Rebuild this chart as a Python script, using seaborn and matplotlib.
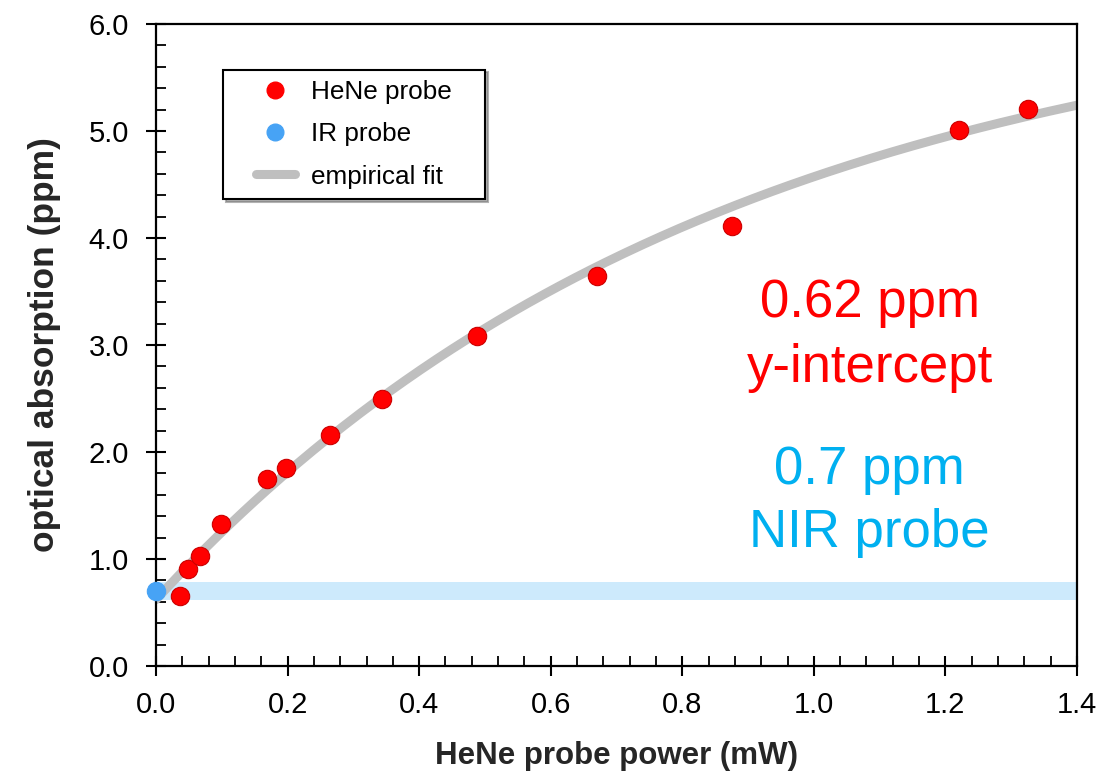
import numpy as np
import pandas as pd
import matplotlib
matplotlib.use("Agg")
import matplotlib.pyplot as plt
import seaborn as sns
from matplotlib.lines import Line2D
from matplotlib.legend_handler import HandlerLine2D
from matplotlib.ticker import MultipleLocator, FormatStrFormatter

# ---- data ----
hene_power = [0.0365, 0.0482, 0.0664, 0.0993, 0.168, 0.198, 0.265, 0.3435, 0.4875, 0.670, 0.8755, 1.221, 1.326]
hene_absorption = [0.657, 0.904, 1.028, 1.327, 1.748, 1.850, 2.156, 2.498, 3.087, 3.642, 4.109, 5.009, 5.203]
ir_power = [0.0]
ir_absorption = [0.70]
nir_level = 0.70
nir_band_half = 0.082
# empirical fit parameters: y = intercept + amplitude * (1 - exp(-x / scale))
fit_intercept = 0.62
fit_amplitude = 5.75
fit_scale = 0.86
x_range = (0.0, 1.4)
y_range = (0.0, 6.0)
legend_labels = ["HeNe probe", "IR probe", "empirical fit"]

sns.set_theme(style="white")
plt.rcParams['font.family'] = ['Liberation Sans', 'DejaVu Sans']

fig = plt.figure(figsize=(10.99, 7.74), dpi=100)
ax = fig.add_axes([156/1099, 1-666/774, (1077-156)/1099, (666-24)/774])

# NIR band
ax.axhspan(nir_level - nir_band_half, nir_level + nir_band_half, color="#cdeafc", zorder=1, lw=0)

# empirical fit
fit_x = np.linspace(x_range[0], x_range[1], 300)
fit_df = pd.DataFrame({"x": fit_x, "y": fit_intercept + fit_amplitude * (1 - np.exp(-fit_x / fit_scale))})
sns.lineplot(data=fit_df, x="x", y="y", ax=ax, color="#bfbfbf", lw=6.5, zorder=2, legend=False)

hene_df = pd.DataFrame({"x": hene_power, "y": hene_absorption})
ir_df = pd.DataFrame({"x": ir_power, "y": ir_absorption})
sns.scatterplot(data=hene_df, x="x", y="y", ax=ax, color="#ff0000", edgecolor="#cc0000",
                linewidth=0.8, s=175, zorder=4, legend=False, clip_on=False)
sns.scatterplot(data=ir_df, x="x", y="y", ax=ax, color="#47a3f5", edgecolor="#47a3f5",
                linewidth=0.8, s=175, zorder=5, legend=False, clip_on=False)

ax.set_xlim(*x_range)
ax.set_ylim(*y_range)
ax.xaxis.set_major_locator(MultipleLocator(0.2))
ax.xaxis.set_minor_locator(MultipleLocator(0.04))
ax.yaxis.set_major_locator(MultipleLocator(1.0))
ax.yaxis.set_minor_locator(MultipleLocator(0.2))
ax.xaxis.set_major_formatter(FormatStrFormatter("%.1f"))
ax.yaxis.set_major_formatter(FormatStrFormatter("%.1f"))
ax.tick_params(which="major", direction="inout", length=14, width=1.5, color="black",
               labelsize=21, labelcolor="black")
ax.tick_params(which="minor", direction="in", length=7, width=1.3, color="black")
ax.tick_params(axis="x", which="both", bottom=True, top=False)
ax.tick_params(axis="x", which="major", pad=11)
ax.tick_params(axis="y", which="both", left=True, right=False)
ax.tick_params(axis="y", which="major", pad=12.5)
for sp in ax.spines.values():
    sp.set_color("black")
    sp.set_linewidth(1.6)

ax.set_xlabel("HeNe probe power (mW)", fontsize=22.5, fontweight="bold", labelpad=16)
ax.set_ylabel("optical absorption (ppm)", fontsize=25.5, fontweight="bold", labelpad=20)

ax.text(0.775, 0.5436, "0.62 ppm", transform=ax.transAxes, ha="center", va="baseline",
        fontsize=38, color="#ff0000")
ax.text(0.775, 0.4429, "y-intercept", transform=ax.transAxes, ha="center", va="baseline",
        fontsize=38, color="#ff0000")
ax.text(0.775, 0.2835, "0.7 ppm", transform=ax.transAxes, ha="center", va="baseline",
        fontsize=38, color="#00b0f0")
ax.text(0.775, 0.1858, "NIR probe", transform=ax.transAxes, ha="center", va="baseline",
        fontsize=38, color="#00b0f0")

h_hene = Line2D([], [], ls="none", marker="o", ms=12, color="#ff0000", markeredgecolor="#ff0000")
h_ir = Line2D([], [], ls="none", marker="o", ms=12, color="#47a3f5", markeredgecolor="#47a3f5")
h_fit = Line2D([], [], color="#bfbfbf", lw=6.5, solid_capstyle="round")
leg = ax.legend([h_hene, h_ir, h_fit], legend_labels, loc="upper left",
                bbox_to_anchor=(0.0727, 0.731, 0.2845, 0.198), mode="expand",
                borderaxespad=0, fontsize=18.8, frameon=True,
                fancybox=False, shadow={"color": "0.45", "alpha": 0.55},
                handlelength=3.22, handletextpad=-0.23,
                labelspacing=0.7, borderpad=0.4,
                handler_map={h_fit: HandlerLine2D(numpoints=2, marker_pad=0.85)})
leg.get_frame().set_edgecolor("black")
leg.get_frame().set_linewidth(1.5)
for t in leg.get_texts():
    t.set_color("black")

fig.savefig("out.png", dpi=100)
